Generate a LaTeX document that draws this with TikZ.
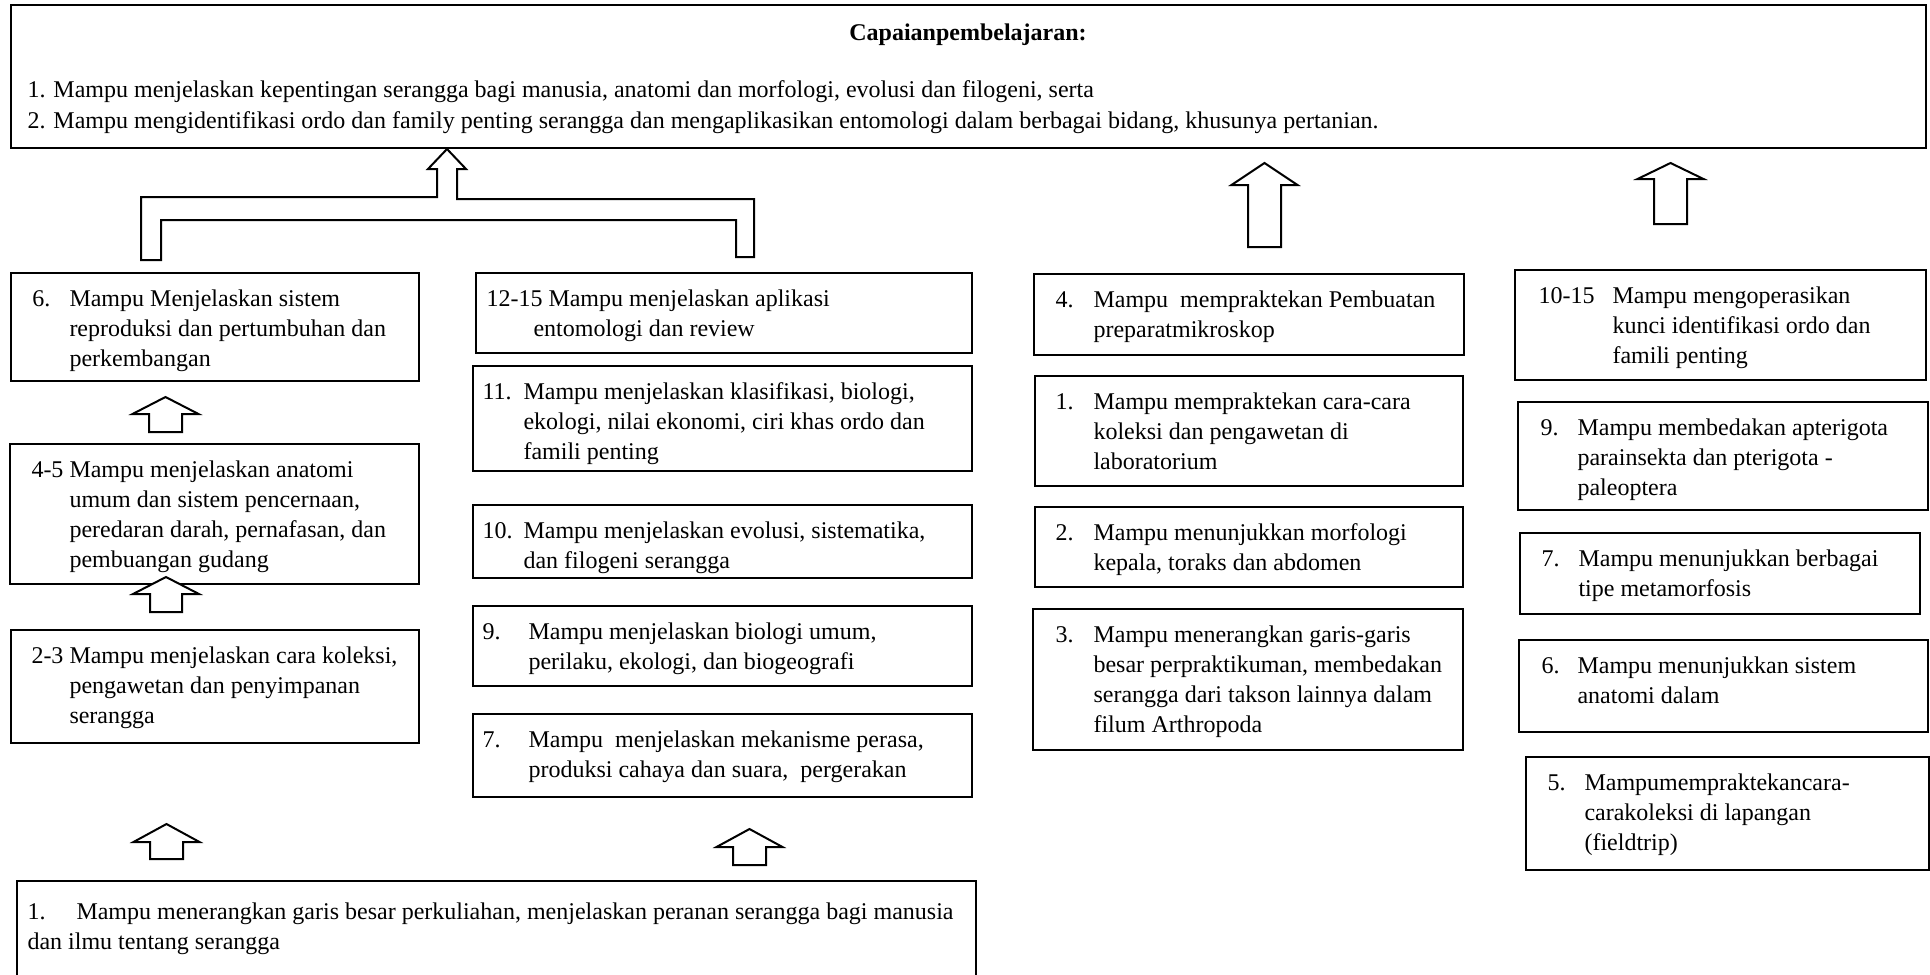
\documentclass[tikz,border=0pt]{standalone}
\usepackage{fontspec}
\setmainfont{Liberation Serif}
\usetikzlibrary{fit}
\newcommand\ml[1]{\begin{tabular}[t]{@{}l@{}}#1\end{tabular}}
\newcommand\blockup[6]{%
  \draw[blk] (#1,#2) -- ({#1+#3},#4) -- ({#1+#5},#4) -- ({#1+#5},#6)
    -- ({#1-#5},#6) -- ({#1-#5},#4) -- ({#1-#3},#4) -- cycle;}
\begin{document}
\begin{tikzpicture}[x=0.4pt,y=-0.4pt,
  font=\fontsize{9.6}{12}\selectfont,
  box/.style={draw, line width=0.8pt, inner sep=0pt},
  txt/.style={inner sep=0pt, anchor=base west},
  blk/.style={draw, line width=0.8pt, line join=miter, fill=white}]
\fill[white] (0,0) rectangle (1930,974);
\useasboundingbox (0,0) rectangle (1930,974);

% top box
\node[box, fit={(11,5)(1926,148)}] (top) {};
\node[inner sep=0pt, anchor=base] (title) at (968,40) {\textbf{Capaianpembelajaran:}};
\node[txt] (topl1) at (27,97) {1. Mampu menjelaskan kepentingan serangga bagi manusia, anatomi dan morfologi, evolusi dan filogeni, serta};
\node[txt] (topl2) at (27,128) {2. Mampu mengidentifikasi ordo dan family penting serangga dan mengaplikasikan entomologi dalam berbagai bidang, khusunya pertanian.};

% left column
\node[box, fit={(11,273)(419,381)}] (b6) {};
\node[txt] (b6n) at (32,306) {6.};
\node[txt] (b6t) at (69,306) {\ml{Mampu Menjelaskan sistem\\reproduksi dan pertumbuhan dan\\perkembangan}};

\node[box, fit={(10,444)(419,584)}] (b45) {};
\node[txt] (b45n) at (31,477) {4-5};
\node[txt] (b45t) at (69,477) {\ml{Mampu menjelaskan anatomi\\umum dan sistem pencernaan,\\peredaran darah, pernafasan, dan\\pembuangan gudang}};

\node[box, fit={(11,630)(419,743)}] (b23) {};
\node[txt] (b23n) at (31,663) {2-3};
\node[txt] (b23t) at (69,663) {\ml{Mampu menjelaskan cara koleksi,\\pengawetan dan penyimpanan\\serangga}};

% second column
\node[box, fit={(476,273)(972,353)}] (c1215) {};
\node[txt] (c1215a) at (486,306) {12-15 Mampu menjelaskan aplikasi};
\node[txt] (c1215b) at (533,336) {entomologi dan review};

\node[box, fit={(473,366)(972,471)}] (c11) {};
\node[txt] (c11n) at (482,399) {11.};
\node[txt] (c11t) at (523,399) {\ml{Mampu menjelaskan klasifikasi, biologi,\\ekologi, nilai ekonomi, ciri khas ordo dan\\famili penting}};

\node[box, fit={(473,505)(972,578)}] (c10) {};
\node[txt] (c10n) at (482,538) {10.};
\node[txt] (c10t) at (523,538) {\ml{Mampu menjelaskan evolusi, sistematika,\\dan filogeni serangga}};

\node[box, fit={(473,606)(972,686)}] (c9) {};
\node[txt] (c9n) at (482,639) {9.};
\node[txt] (c9t) at (528,639) {\ml{Mampu menjelaskan biologi umum,\\perilaku, ekologi, dan biogeografi}};

\node[box, fit={(473,714)(972,797)}] (c7) {};
\node[txt] (c7n) at (482,747) {7.};
\node[txt] (c7t) at (528,747) {\ml{Mampu\ \ menjelaskan mekanisme perasa,\\produksi cahaya dan suara,\ \ pergerakan}};

% third column
\node[box, fit={(1034,274)(1464,355)}] (d4) {};
\node[txt] (d4n) at (1055,307) {4.};
\node[txt] (d4t) at (1093,307) {\ml{Mampu\ \ mempraktekan Pembuatan\\preparatmikroskop}};

\node[box, fit={(1035,376)(1463,486)}] (d1) {};
\node[txt] (d1n) at (1055,409) {1.};
\node[txt] (d1t) at (1093,409) {\ml{Mampu mempraktekan cara-cara\\koleksi dan pengawetan di\\laboratorium}};

\node[box, fit={(1035,507)(1463,587)}] (d2) {};
\node[txt] (d2n) at (1055,540) {2.};
\node[txt] (d2t) at (1093,540) {\ml{Mampu menunjukkan morfologi\\kepala, toraks dan abdomen}};

\node[box, fit={(1033,609)(1463,750)}] (d3) {};
\node[txt] (d3n) at (1055,642) {3.};
\node[txt] (d3t) at (1093,642) {\ml{Mampu menerangkan garis-garis\\besar perpraktikuman, membedakan\\serangga dari takson lainnya dalam\\filum Arthropoda}};

% fourth column
\node[box, fit={(1515,270)(1926,380)}] (e1015) {};
\node[txt] (e1015n) at (1538,303) {10-15};
\node[txt] (e1015t) at (1612,303) {\ml{Mampu mengoperasikan\\kunci identifikasi ordo dan\\famili penting}};

\node[box, fit={(1518,402)(1928,510)}] (e9) {};
\node[txt] (e9n) at (1540,435) {9.};
\node[txt] (e9t) at (1577,435) {\ml{Mampu membedakan apterigota\\parainsekta dan pterigota -\\paleoptera}};

\node[box, fit={(1520,533)(1920,614)}] (e7) {};
\node[txt] (e7n) at (1541,566) {7.};
\node[txt] (e7t) at (1578,566) {\ml{Mampu menunjukkan berbagai\\tipe metamorfosis}};

\node[box, fit={(1519,640)(1928,732)}] (e6) {};
\node[txt] (e6n) at (1541,673) {6.};
\node[txt] (e6t) at (1577,673) {\ml{Mampu menunjukkan sistem\\anatomi dalam}};

\node[box, fit={(1526,757)(1929,870)}] (e5) {};
\node[txt] (e5n) at (1547,790) {5.};
\node[txt] (e5t) at (1584,790) {\ml{Mampumempraktekancara-\\carakoleksi di lapangan\\(fieldtrip)}};

% bottom box (cut off at the lower edge)
\node[inner sep=0pt, fit={(17,881)(975,974)}] (bot) {};
\draw[line width=0.8pt] (bot.south west) -- (bot.north west) -- (bot.north east) -- (bot.south east);
\node[txt] (botn) at (27,919) {1.};
\node[txt] (botl1) at (76,919) {Mampu menerangkan garis besar perkuliahan, menjelaskan peranan serangga bagi manusia};
\node[txt] (botl2) at (27,949) {dan ilmu tentang serangga};

% block arrows
\blockup{165.5}{397}{33}{414}{16.5}{432}
\blockup{166}{577}{33}{594}{16}{612}
\blockup{166.5}{824}{33}{842}{16.5}{859}
\blockup{749.5}{829}{33}{847}{16.5}{865}
\blockup{1264.5}{163}{33}{185}{16.5}{247}
\blockup{1670.5}{163}{33}{179}{16.5}{224}
\draw[blk] (447,149) -- (466,169) -- (457,169) -- (457,199) -- (754,199)
  -- (754,257) -- (736,257) -- (736,220) -- (161,220) -- (161,260)
  -- (141,260) -- (141,197) -- (437,197) -- (437,169) -- (428,169) -- cycle;
\end{tikzpicture}
\end{document}
